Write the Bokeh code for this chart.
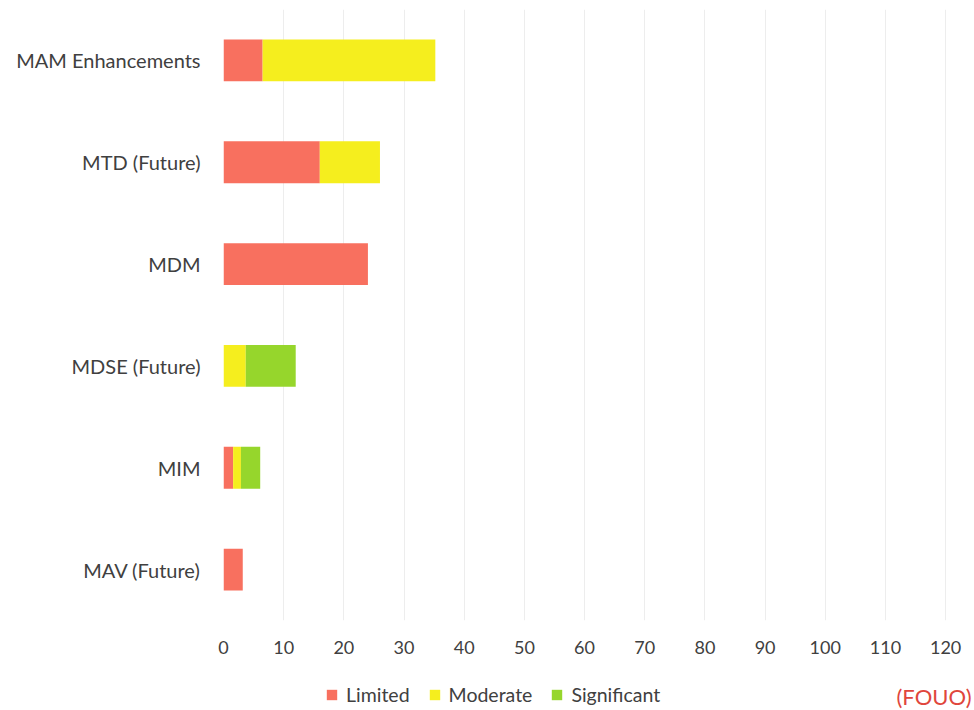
from bokeh.plotting import figure
from bokeh.models import Range1d, FactorRange, Legend, LegendItem, Label
from bokeh.layouts import column
from bokeh.embed import file_html
from bokeh.resources import INLINE

categories = ["MAV (Future)", "MIM", "MDSE (Future)", "MDM", "MTD (Future)", "MAM Enhancements"]
limited = [3.2, 1.6, 0, 24, 16, 6.5]
moderate = [0, 1.3, 3.7, 0, 10, 28.7]
significant = [0, 3.2, 8.3, 0, 0, 0]
series = ["Limited", "Moderate", "Significant"]
colors = ["#F8705F", "#F5EE1E", "#96D62C"]
x_ticks = list(range(0, 121, 10))

FONT = "Lato"

# frame spans the full right side; gridlines only at the 0..120 ticks
p = figure(width=974, height=662, y_range=FactorRange(factors=categories),
           x_range=Range1d(0, 124.8), output_backend="svg", toolbar_location=None,
           min_border_left=223, min_border_right=0, min_border_top=9, min_border_bottom=42)

data = dict(cat=categories, Limited=limited, Moderate=moderate, Significant=significant)
renderers = p.hbar_stack(series, y="cat", height=0.41, color=colors, source=data, line_width=0)

p.outline_line_color = None
p.ygrid.grid_line_color = None
p.xgrid.grid_line_color = "#EDEDED"
p.xgrid.grid_line_width = 1
p.xaxis.ticker = x_ticks
p.xaxis.axis_line_color = None
p.xaxis.major_tick_line_color = None
p.xaxis.minor_tick_line_color = None
p.yaxis.axis_line_color = None
p.yaxis.major_tick_line_color = None
p.yaxis.minor_tick_line_color = None
p.xaxis.major_label_text_font = FONT
p.yaxis.major_label_text_font = FONT
p.xaxis.major_label_text_font_size = "18px"
p.yaxis.major_label_text_font_size = "20px"
p.xaxis.major_label_text_color = "#404040"
p.yaxis.major_label_text_color = "#404040"
p.xaxis.major_label_standoff = 14
p.yaxis.major_label_standoff = 17

# legend row (its frame is aligned with the chart frame by the column layout)
p2 = figure(width=974, height=48, x_range=Range1d(0, 1), y_range=Range1d(0, 1),
            output_backend="svg", toolbar_location=None, x_axis_type=None, y_axis_type=None,
            min_border_left=223, min_border_right=0, min_border_top=0, min_border_bottom=0)
p2.outline_line_color = None
p2.xgrid.grid_line_color = None
p2.ygrid.grid_line_color = None
# legend keys: zero-size, off-range bars, so only their legend swatches show
dummies = [p2.hbar(y=[-5], left=[-5], right=[-5], height=0.0, color=c, line_width=0)
           for c in colors]

legend = Legend(items=[LegendItem(label=s, renderers=[r]) for s, r in zip(series, dummies)],
                orientation="horizontal", location=(102, 4), border_line_color=None,
                background_fill_alpha=0, label_text_font=FONT, label_text_font_size="19.5px",
                label_text_color="#404040", glyph_width=13, glyph_height=13, spacing=18,
                label_standoff=8, padding=0, margin=0)
p2.add_layout(legend, "center")

p2.add_layout(Label(x=748, y=1, x_units="screen", y_units="screen", text="(FOUO)",
                    text_align="right", text_baseline="bottom", text_font=FONT,
                    text_font_size="22px", text_color="#E0463C"))

layout = column(p, p2, spacing=0)
open("out.html", "w").write(file_html(layout, INLINE))
